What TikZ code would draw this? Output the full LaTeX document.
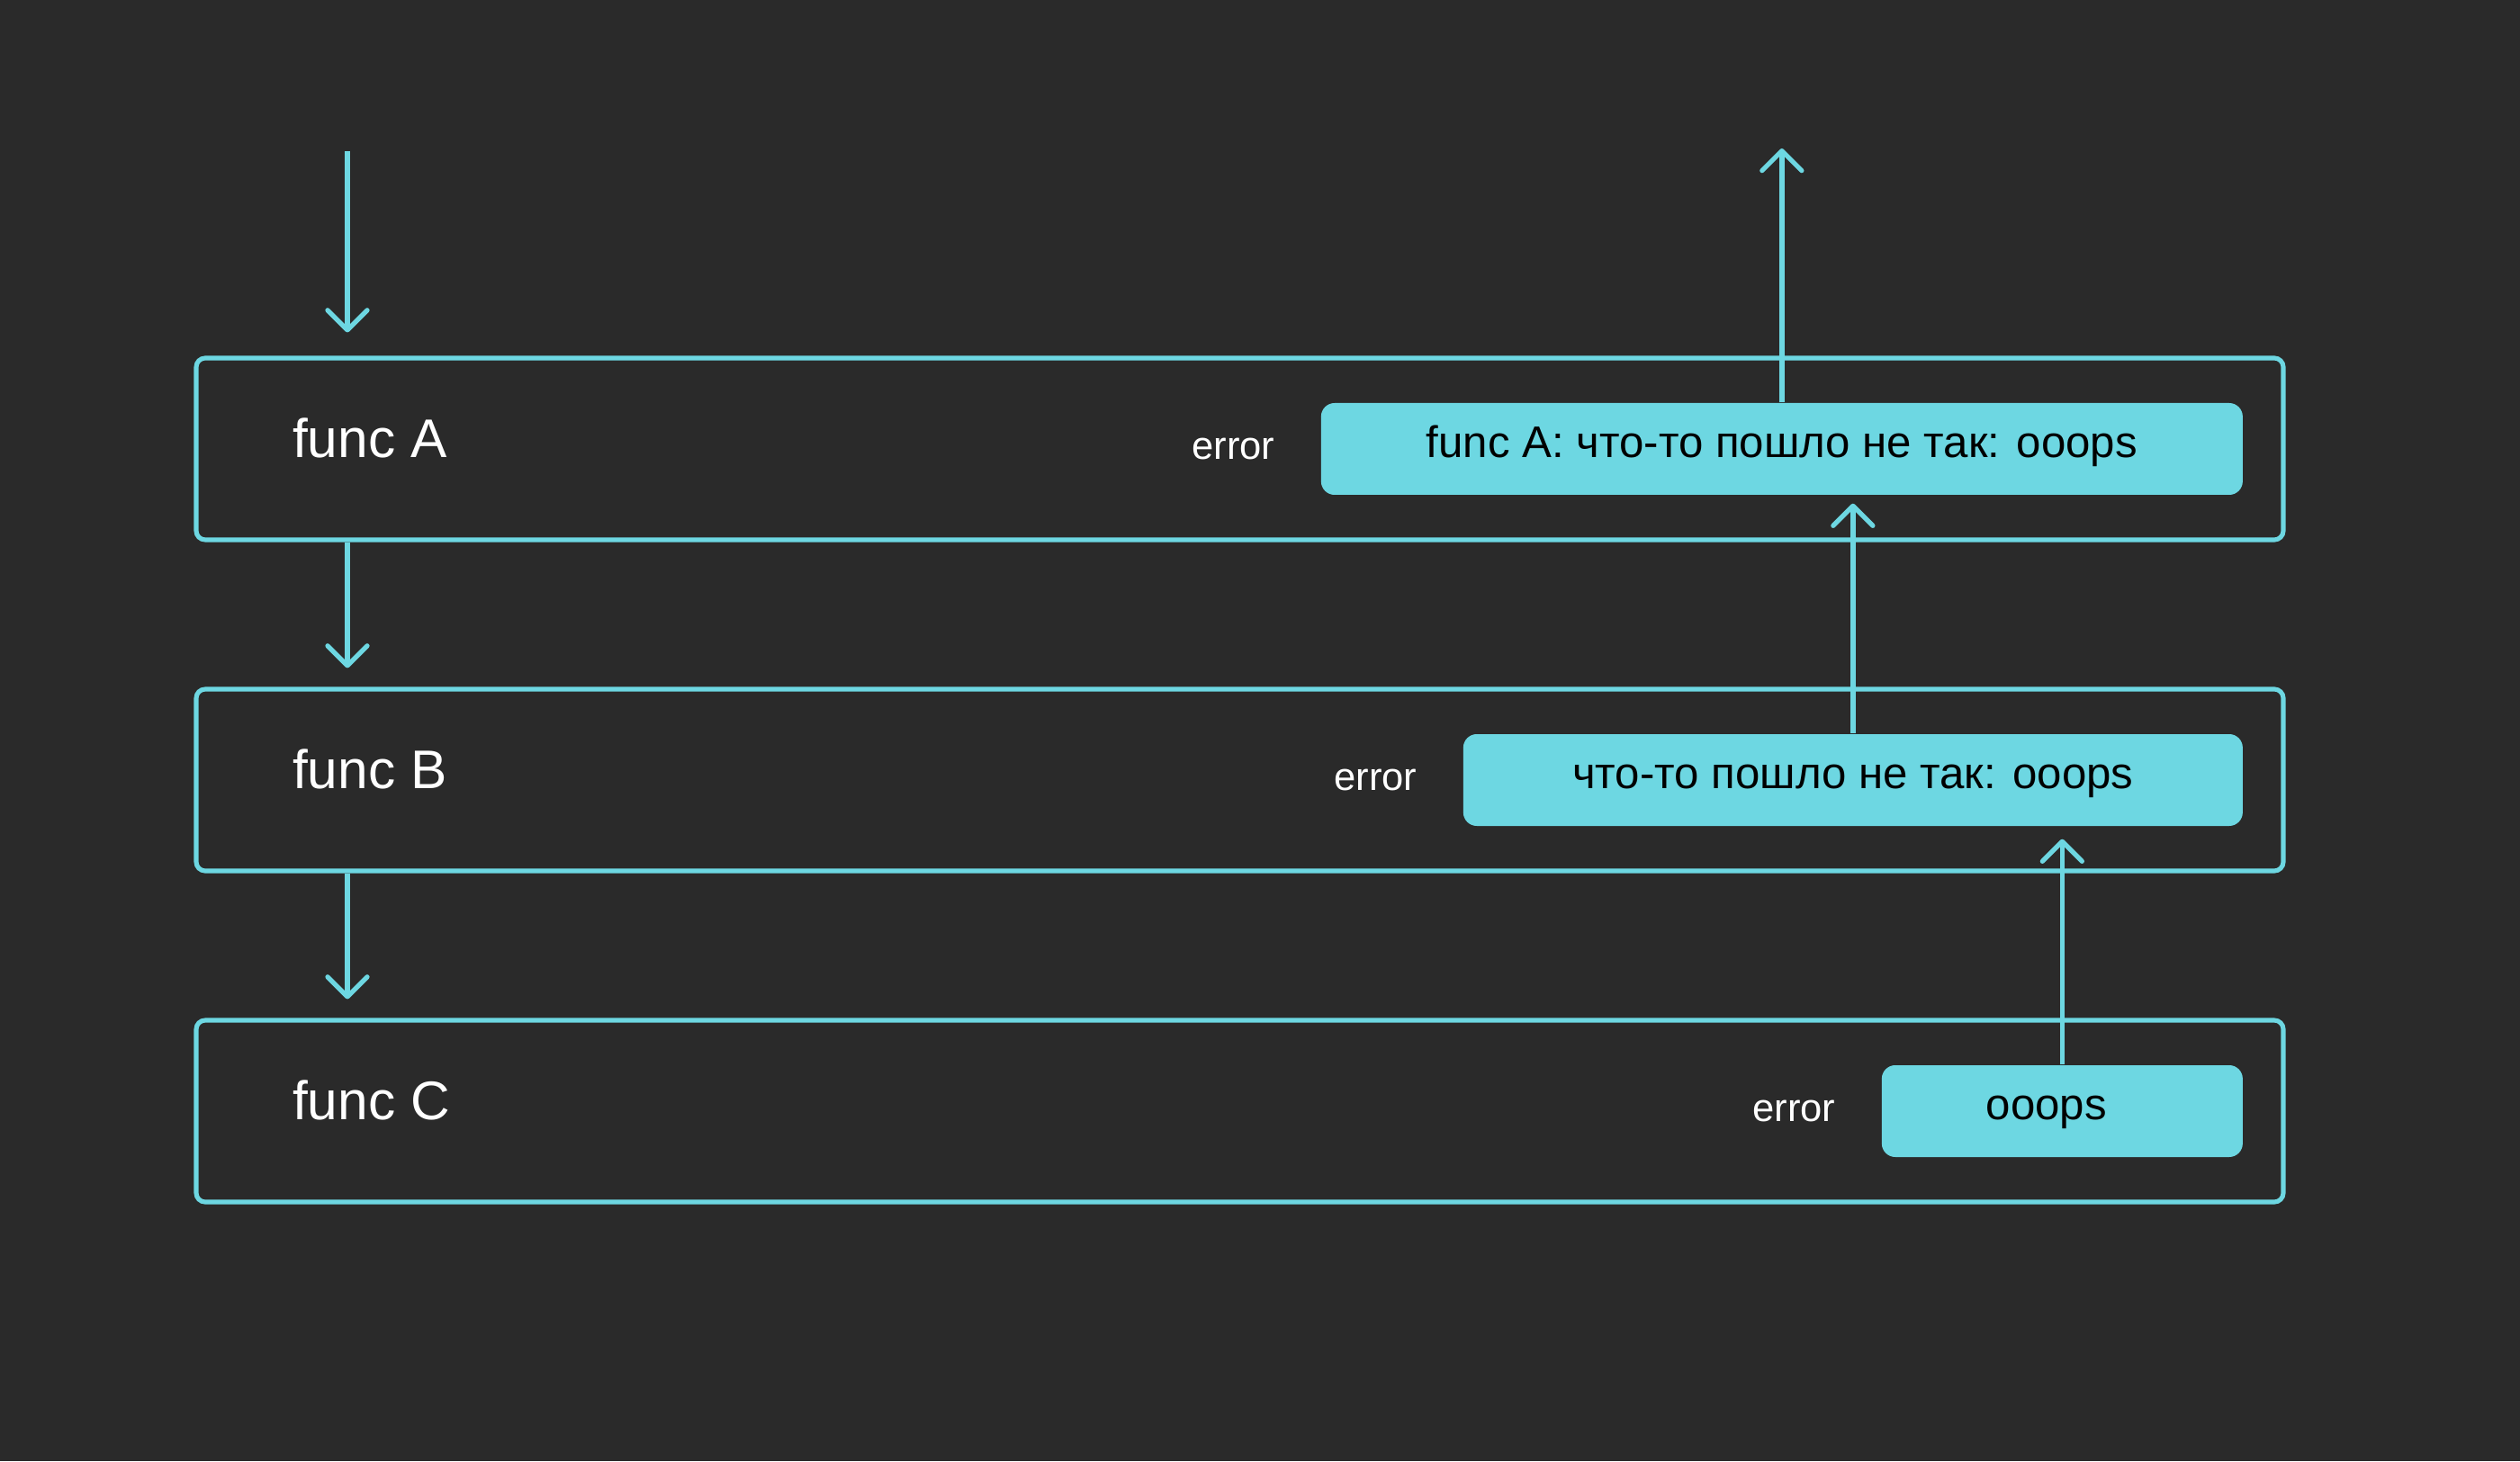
\documentclass[tikz,border=0pt]{standalone}
\usepackage{fontspec}
\setmainfont{Liberation Sans}
\usepackage{tikz}
\usetikzlibrary{positioning,arrows.meta}
\definecolor{bgcol}{HTML}{2A2A2A}
\definecolor{cyanline}{HTML}{6DD7E2}

\begin{document}
\begin{tikzpicture}[
  funcbox/.style={draw=cyanline,line width=1.45pt,rounded corners=0.1cm,
    minimum width=23.19cm,minimum height=2.02cm},
  funclabel/.style={text=white,font=\fontsize{17.2}{20}\selectfont,anchor=west,inner sep=0pt,
    text height=0.72em,text depth=0.2em},
  errbox/.style={fill=cyanline,rounded corners=0.15cm,minimum height=1.02cm,
    anchor=east,font=\fontsize{14}{16}\selectfont,text=black,
    text height=0.72em,text depth=0.18em},
  errlabel/.style={text=white,font=\fontsize{12.4}{15}\selectfont,inner sep=0pt},
  flow/.style={draw=cyanline,line width=1.5pt,
    -{Straight Barb[length=2.2mm,width=4.4mm,round]}}
  ]
  \useasboundingbox[fill=bgcol] (0,0) rectangle (28,16.24);
  % the three frames
  \node[funcbox] (funcA) at (13.775,11.25) {};
  \node[funcbox] (funcB) at (13.775,7.57) {};
  \node[funcbox] (funcC) at (13.775,3.89) {};
  \node[funclabel,right=1.09cm of funcA.west] (labA) {func A};
  \node[funclabel,right=1.09cm of funcB.west] (labB) {func B};
  \node[funclabel,right=1.09cm of funcC.west] (labC) {func C};
  % wrapped errors
  \node[errbox,minimum width=10.24cm] (errA) at ([xshift=-0.47cm]funcA.east)
  {func A: что-то пошло не так: ooops};
  \node[errbox,minimum width=8.66cm] (errB) at ([xshift=-0.47cm]funcB.east)
  {что-то пошло не так: ooops};
  \node[errbox,inner xsep=1.16cm,text width=1.69cm,align=left] (errC)
  at ([xshift=-0.47cm]funcC.east) {ooops};
  \node[errlabel,left=0.5cm of errA] (eA) {error};
  \node[errlabel,left=0.5cm of errB] (eB) {error};
  \node[errlabel,left=0.5cm of errC] (eC) {error};
  % calls going down
  \coordinate (in) at (3.86,14.56);
  \draw[flow,shorten >=2.6mm]
  (in) -- (in |- funcA.north);
  \draw[flow,shorten >=2.1mm]
  (in |- funcA.south) -- (in |- funcB.north);
  \draw[flow,shorten >=2.1mm]
  (in |- funcB.south) -- (in |- funcC.north);
  % errors going up
  \coordinate (out) at (19.78,14.59);
  \draw[flow,shorten >=1.4mm]
  (errC.north) -- (errC.north |- errB.south);
  \draw[flow,shorten >=0.9mm]
  (errB.north) -- (errB.north |- errA.south);
  \draw[flow]
  (errA.north) -- (errA.north |- out);
\end{tikzpicture}
\end{document}
